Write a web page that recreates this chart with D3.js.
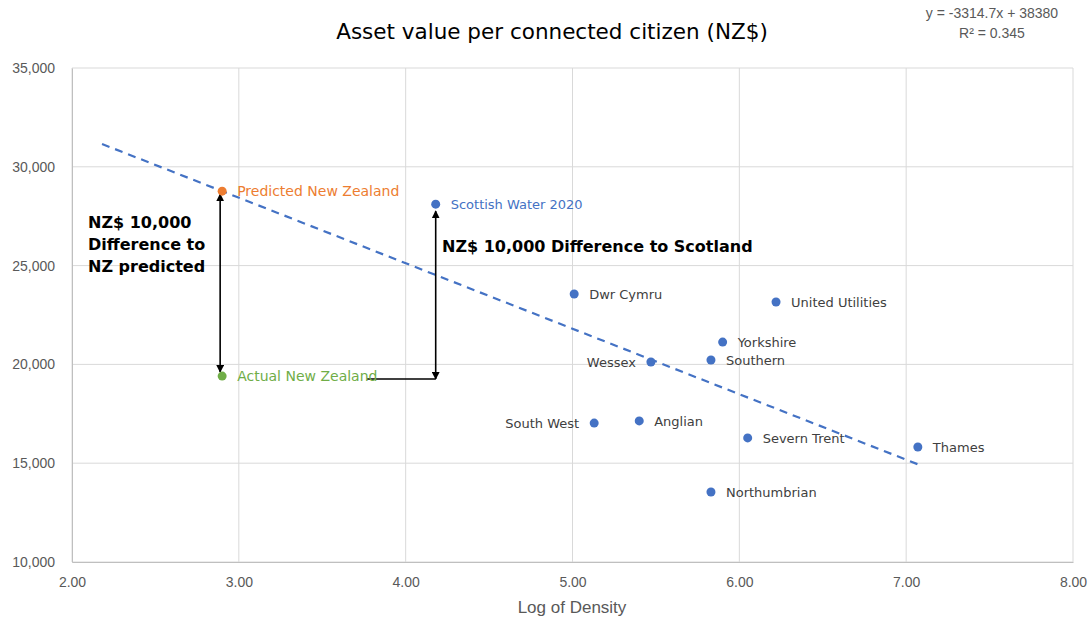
<!DOCTYPE html>
<html>
<head>
<meta charset="utf-8">
<script src="https://cdn.jsdelivr.net/npm/d3@7"></script>
<style>
  body { margin: 0; background: #fff; }
  .tick text { font-family: "Liberation Sans", sans-serif; font-size: 14px; fill: #595959; }
</style>
</head>
<body>
<script>
var companies = ["Dwr Cymru", "United Utilities", "Yorkshire", "Wessex", "Southern", "South West",
                 "Anglian", "Severn Trent", "Northumbrian", "Thames"];
var logDensity = [5.01, 6.22, 5.90, 5.47, 5.83, 5.13, 5.40, 6.05, 5.83, 7.07];
var assetValue = [23560, 23160, 21130, 20120, 20220, 17030, 17140, 16280, 13540, 15820];
var labelSide  = ["r", "r", "r", "l", "r", "l", "r", "r", "r", "r"];

var scotland = { name: "Scottish Water 2020", x: 4.18, y: 28110 };
var nzPredicted = { name: "Predicted New Zealand", x: 2.90, y: 28767 };
var nzActual = { name: "Actual New Zealand", x: 2.90, y: 19410 };

var trendSlope = -3314.7, trendIntercept = 38380, trendFrom = 2.18, trendTo = 7.07;

var xTicks = [2, 3, 4, 5, 6, 7, 8];
var yTicks = [10000, 15000, 20000, 25000, 30000, 35000];

var width = 1090, height = 621;
var margin = { left: 72, right: 17, top: 68, bottom: 59 };

var svg = d3.select("body").append("svg")
    .attr("width", width)
    .attr("height", height);

var x = d3.scaleLinear().domain([2, 8]).range([margin.left, width - margin.right]);
var y = d3.scaleLinear().domain([10000, 35000]).range([height - margin.bottom, margin.top]);

// grid
svg.append("g").selectAll("line").data(xTicks).enter().append("line")
  .attr("x1", function(d) { return x(d); }).attr("x2", function(d) { return x(d); })
  .attr("y1", y(10000)).attr("y2", y(35000))
  .attr("stroke", "#d9d9d9");
svg.append("g").selectAll("line").data(yTicks).enter().append("line")
  .attr("x1", x(2)).attr("x2", x(8))
  .attr("y1", function(d) { return y(d); }).attr("y2", function(d) { return y(d); })
  .attr("stroke", "#d9d9d9");

// axes
var xAxis = svg.append("g")
  .attr("transform", "translate(0," + y(10000) + ")")
  .call(d3.axisBottom(x).tickValues(xTicks).tickFormat(d3.format(".2f")).tickSize(0).tickPadding(15));
xAxis.select(".domain").attr("stroke", "#bfbfbf");

var yAxis = svg.append("g")
  .attr("transform", "translate(" + x(2) + ",0)")
  .call(d3.axisLeft(y).tickValues(yTicks).tickFormat(d3.format(",")).tickSize(0).tickPadding(17));
yAxis.select(".domain").attr("stroke", "#bfbfbf");

// title
svg.append("text")
  .attr("x", 552).attr("y", 39)
  .attr("text-anchor", "middle")
  .style("font-family", "DejaVu Sans, sans-serif").style("font-size", "21.5px").style("fill", "#000")
  .text("Asset value per connected citizen (NZ$)");

svg.append("text")
  .attr("x", 572).attr("y", 613)
  .attr("text-anchor", "middle")
  .style("font-family", "Liberation Sans, sans-serif").style("font-size", "17px").style("fill", "#595959")
  .text("Log of Density");

// trend equation
var eq = svg.append("text")
  .attr("text-anchor", "middle")
  .style("font-family", "Liberation Sans, sans-serif").style("font-size", "14px").style("fill", "#595959");
eq.append("tspan").attr("x", 992).attr("y", 18).text("y = -3314.7x + 38380");
eq.append("tspan").attr("x", 992).attr("y", 38).text("R² = 0.345");

// trendline
svg.append("line")
  .attr("x1", x(trendFrom)).attr("y1", y(trendSlope * trendFrom + trendIntercept))
  .attr("x2", x(trendTo)).attr("y2", y(trendSlope * trendTo + trendIntercept))
  .attr("stroke", "#4472c4").attr("stroke-width", 2.2).attr("stroke-dasharray", "8,6");

// arrows
var defs = svg.append("defs");
defs.append("marker").attr("id", "ah")
  .attr("viewBox", "0 0 10 10").attr("refX", 9).attr("refY", 5)
  .attr("markerWidth", 5).attr("markerHeight", 5).attr("orient", "auto-start-reverse")
  .append("path").attr("d", "M0,0 L10,5 L0,10 z").attr("fill", "#000");

svg.append("line")
  .attr("x1", x(nzPredicted.x) - 2).attr("x2", x(nzActual.x) - 2)
  .attr("y1", y(nzPredicted.y) + 3).attr("y2", y(nzActual.y) - 4)
  .attr("stroke", "#000").attr("stroke-width", 1.6)
  .attr("marker-start", "url(#ah)").attr("marker-end", "url(#ah)");

svg.append("line")
  .attr("x1", 367).attr("x2", x(scotland.x))
  .attr("y1", y(nzActual.y) + 3).attr("y2", y(nzActual.y) + 3)
  .attr("stroke", "#000").attr("stroke-width", 1.6);
svg.append("line")
  .attr("x1", x(scotland.x)).attr("x2", x(scotland.x))
  .attr("y1", y(nzActual.y) + 3).attr("y2", y(scotland.y) + 7)
  .attr("stroke", "#000").attr("stroke-width", 1.6)
  .attr("marker-start", "url(#ah)").attr("marker-end", "url(#ah)");

// annotations
var ann = svg.append("text")
  .style("font-family", "DejaVu Sans, sans-serif").style("font-size", "16px")
  .style("font-weight", "bold").style("fill", "#000");
ann.append("tspan").attr("x", 88).attr("y", 228).text("NZ$ 10,000");
ann.append("tspan").attr("x", 88).attr("y", 250).text("Difference to");
ann.append("tspan").attr("x", 88).attr("y", 272).text("NZ predicted");

svg.append("text")
  .attr("x", 442).attr("y", 252)
  .style("font-family", "DejaVu Sans, sans-serif").style("font-size", "16px")
  .style("font-weight", "bold").style("fill", "#000")
  .text("NZ$ 10,000 Difference to Scotland");

// points
var pts = companies.map(function(c, i) {
  return { name: c, x: logDensity[i], y: assetValue[i], side: labelSide[i], color: "#4472c4", text: "#404040", size: 13 };
});
pts.push({ name: scotland.name, x: scotland.x, y: scotland.y, side: "r", color: "#4472c4", text: "#4472c4", size: 13 });
pts.push({ name: nzPredicted.name, x: nzPredicted.x, y: nzPredicted.y, side: "r", color: "#ed7d31", text: "#ed7d31", size: 14 });
pts.push({ name: nzActual.name, x: nzActual.x, y: nzActual.y, side: "r", color: "#70ad47", text: "#70ad47", size: 14 });

var g = svg.append("g").selectAll("g").data(pts).enter().append("g");
g.append("circle")
  .attr("cx", function(d) { return x(d.x); })
  .attr("cy", function(d) { return y(d.y); })
  .attr("r", 4.5)
  .attr("fill", function(d) { return d.color; });
g.append("text")
  .attr("x", function(d) { return d.side == "r" ? x(d.x) + 15 : x(d.x) - 15; })
  .attr("y", function(d) { return y(d.y) + 5; })
  .attr("text-anchor", function(d) { return d.side == "r" ? "start" : "end"; })
  .style("font-family", "DejaVu Sans, sans-serif")
  .style("font-size", function(d) { return d.size + "px"; })
  .style("fill", function(d) { return d.text; })
  .text(function(d) { return d.name; });
</script>
</body>
</html>
